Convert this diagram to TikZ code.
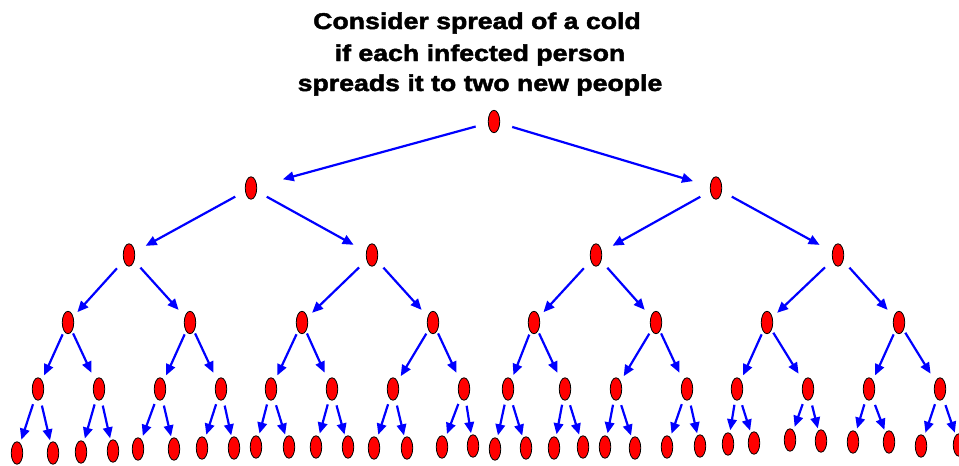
\documentclass[tikz,border=0pt]{standalone}
\usepackage{fontspec}
\newfontfamily\titlefont{Liberation Sans}[FakeStretch=1.17,BoldFeatures={FakeBold=2}]
\usetikzlibrary{shapes.geometric,arrows.meta}
\definecolor{arrowblue}{RGB}{0,0,255}
\begin{document}
\begin{tikzpicture}[x=1pt,y=-1pt,
  person/.style={ellipse,draw=black,line width=0.8pt,fill=red,
    minimum width=11.5pt,minimum height=22.5pt,inner sep=0pt},
  spread/.style={draw=arrowblue,line width=2.2pt,
    -{Triangle[length=11pt,width=9.5pt]}},
  title/.style={font=\titlefont\bfseries\fontsize{22.8}{31}\selectfont,
    anchor=base,inner sep=0pt}]
\useasboundingbox (0,0) rectangle (959,466);
\clip (0,0) rectangle (959,466);

% heading
\node[title] (t1) at (477,29) {Consider spread of a cold};
\node[title] (t2) at (480,61) {if each infected person};
\node[title] (t3) at (480,91) {spreads it to two new people};

% generations of infected people
\node[person] (p0-1) at (494,121.5) {};
\foreach \x [count=\i] in {251,716}
  \node[person] (p1-\i) at (\x,188) {};
\foreach \x [count=\i] in {129,372,596,838}
  \node[person] (p2-\i) at (\x,255) {};
\foreach \x [count=\i] in {68,190,302,433,534,656,767,899}
  \node[person] (p3-\i) at (\x,322.5) {};
\foreach \x [count=\i] in {38,99,160,221,271,332,393,464,508,565,616,687,737,808,869,940}
  \node[person] (p4-\i) at (\x,389) {};
\foreach \x/\y [count=\i] in {17/453,53/453,81/452,113/451,138/449,174/449,
    202/448,234/448,256/447,289/447,316/447,348/447,374/448,407/448,442/447,473/446,
    495/449,526/448,554/448,583/447,605/447,635/448,667/447,700/446,
    728/444,754/443,790/440,821/441,853/442,889/442,921/446,959/445}
  \node[person] (p5-\i) at (\x,\y) {};

% spreading arrows
\draw[spread,shorten <=19pt,shorten >=33pt] (p0-1.center) -- (p1-1.center);
\draw[spread,shorten <=19pt,shorten >=24pt] (p0-1.center) -- (p1-2.center);

\foreach \i in {1,2} {
  \pgfmathtruncatemacro\a{2*\i-1}
  \pgfmathtruncatemacro\b{2*\i}
  \draw[spread,shorten <=18pt,shorten >=19pt] (p1-\i.center) -- (p2-\a.center);
  \draw[spread,shorten <=18pt,shorten >=21pt] (p1-\i.center) -- (p2-\b.center);
}
\foreach \i in {1,...,4} {
  \pgfmathtruncatemacro\a{2*\i-1}
  \pgfmathtruncatemacro\b{2*\i}
  \draw[spread,shorten <=18pt,shorten >=14pt] (p2-\i.center) -- (p3-\a.center);
  \draw[spread,shorten <=17pt,shorten >=17pt] (p2-\i.center) -- (p3-\b.center);
}
\foreach \i in {1,...,8} {
  \pgfmathtruncatemacro\a{2*\i-1}
  \pgfmathtruncatemacro\b{2*\i}
  \draw[spread,shorten <=13pt,shorten >=15pt] (p3-\i.center) -- (p4-\a.center);
  \draw[spread,shorten <=12pt,shorten >=18pt] (p3-\i.center) -- (p4-\b.center);
}
\foreach \i in {1,...,16} {
  \pgfmathtruncatemacro\a{2*\i-1}
  \pgfmathtruncatemacro\b{2*\i}
  \draw[spread,shorten <=16pt,shorten >=14pt] (p4-\i.center) -- (p5-\a.center);
  \draw[spread,shorten <=17pt,shorten >=13pt] (p4-\i.center) -- (p5-\b.center);
}
\end{tikzpicture}
\end{document}
